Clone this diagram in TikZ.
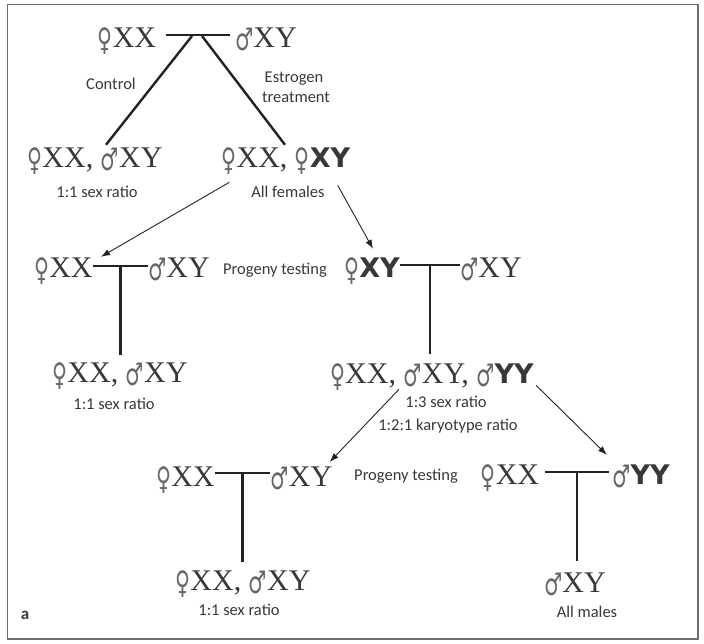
\documentclass[tikz,border=0pt]{standalone}
\usepackage{fontspec}
\usepackage{graphicx}
\setmainfont{Liberation Serif}
\newfontfamily\sexsymfont{DejaVu Sans}
\newfontfamily\notefont{Carlito}
\newfontfamily\heavyfont{DejaVu Sans}
\usetikzlibrary{arrows.meta,positioning,calc}
\definecolor{ink}{HTML}{383838}
\definecolor{lineink}{HTML}{222222}
\definecolor{symgray}{HTML}{666666}
\definecolor{framegray}{HTML}{6E6E6E}
\newcommand{\sexsym}[1]{{\color{symgray}\sexsymfont\fontsize{24}{24}\selectfont\raisebox{-3pt}{\scalebox{0.85}[1.3]{#1}}}}
\newcommand{\fem}{\sexsym{♀}}
\newcommand{\mal}{\sexsym{♂}}
\newcommand{\bk}[1]{{\heavyfont\bfseries\fontsize{27}{30}\selectfont #1}}

\begin{document}
\begin{tikzpicture}[x=1pt,y=-1pt,>={Latex[length=9pt,width=6.5pt]},thick]
\tikzstyle{geno}=[inner sep=0pt,text=ink,font=\fontsize{30}{32}\selectfont,anchor=base]
\tikzstyle{note}=[inner sep=0pt,text=ink,font=\notefont\fontsize{16.5}{20}\selectfont,anchor=base]
\tikzstyle{cross}=[line width=2.4pt,draw=lineink]
\tikzstyle{link}=[->,line width=0.9pt,draw=lineink]

\useasboundingbox (0,0) rectangle (704,644);
\draw[framegray,line width=1.8pt] (7.5,4.5) rectangle (698,639);

% parental cross
\node[geno] (p0f) at (127,48) {\fem XX};
\node[geno] (p0m) at (266,48) {\mal XY};
\node[geno] (f1) at (95,168) {\fem XX, \mal XY};
\node[geno] (f2) at (286,168) {\fem XX, \fem\bk{XY}};
\node[note] (ctrl) at (111,90) {Control};
\node[note] (estr) at (294,83) {Estrogen};
\node[note] (treat) at (296,103) {treatment};
\node[note] (r1) at (97,198) {1:1 sex ratio};
\node[note] (r2) at (288,198) {All females};

\draw[cross] ([shift={(9pt,13pt)}]p0f.base east) -- ([shift={(-5pt,13pt)}]p0m.base west);
\coordinate (j0a) at (192,36);
\coordinate (j0b) at (202,36);
\draw[cross] (j0a) -- ([shift={(11pt,3pt)}]f1.north);
\draw[cross] (j0b) -- ([shift={(-1pt,3pt)}]f2.north);

% progeny testing, first round
\node[geno] (g1f) at (63.5,278) {\fem XX};
\node[geno] (g1m) at (179,278) {\mal XY};
\node[note] (pt1) at (275,275) {Progeny testing};
\node[geno] (g2f) at (372,278) {\fem\bk{XY}};
\node[geno] (g2m) at (491,278) {\mal XY};
\node[geno] (h1) at (120,382) {\fem XX, \mal XY};
\node[note] (r3) at (114,409) {1:1 sex ratio};
\node[geno] (h2) at (432,383) {\fem XX, \mal XY, \mal\bk{YY}};
\node[note] (r4) at (446,407) {1:3 sex ratio};
\node[note] (r5) at (448,430) {1:2:1 karyotype ratio};

\draw[cross] ([yshift=12pt]g1f.base east) -- coordinate (j1) ([yshift=12pt]g1m.base west);
\draw[cross] (j1) -- ($(j1 |- h1.north)+(0,-7)$);
\draw[cross] ([yshift=13pt]g2f.base east) -- coordinate (j2) ([yshift=13pt]g2m.base west);
\draw[cross] (j2) -- ($(j2 |- h2.north)+(0,-9)$);

\draw[link] ([shift={(8pt,-7pt)}]f2.south west) -- ([shift={(8pt,1pt)}]g1f.north east);
\draw[link] ([shift={(-13pt,-10pt)}]f2.south east) -- ([shift={(1pt,9pt)}]g2f.north);

% progeny testing, second round
\node[geno] (k1f) at (185.5,486) {\fem XX};
\node[geno] (k1m) at (301.5,486) {\mal XY};
\node[note] (pt2) at (406,480) {Progeny testing};
\node[geno] (k2f) at (510,484) {\fem XX};
\node[geno] (k2m) at (641,484) {\mal\bk{YY}};
\node[geno] (m1) at (243,590) {\fem XX, \mal XY};
\node[note] (r6) at (239,615) {1:1 sex ratio};
\node[geno] (m2) at (575,592) {\mal XY};
\node[note] (r7) at (587,617) {All males};

\draw[cross] ([yshift=13pt]k1f.base east) -- coordinate (j3) ([yshift=13pt]k1m.base west);
\draw[cross] (j3) -- ($(j3 |- m1.north)+(0,-8)$);
\draw[cross] ([shift={(5pt,12pt)}]k2f.base east) -- coordinate (j4) ([shift={(-3pt,12pt)}]k2m.base west);
\draw[cross] (j4) -- ($(j4 |- m2.north)+(0,-11)$);

\draw[link] ([shift={(-33pt,1pt)}]h2.south) -- ([shift={(-3pt,4pt)}]k1m.north east);
\draw[link] ([shift={(2pt,5pt)}]h2.south east) -- ([shift={(-5pt,9pt)}]k2m.north west);

\node[note,font=\notefont\bfseries\fontsize{17}{20}\selectfont] (panel) at (25,619) {a};
\end{tikzpicture}
\end{document}
